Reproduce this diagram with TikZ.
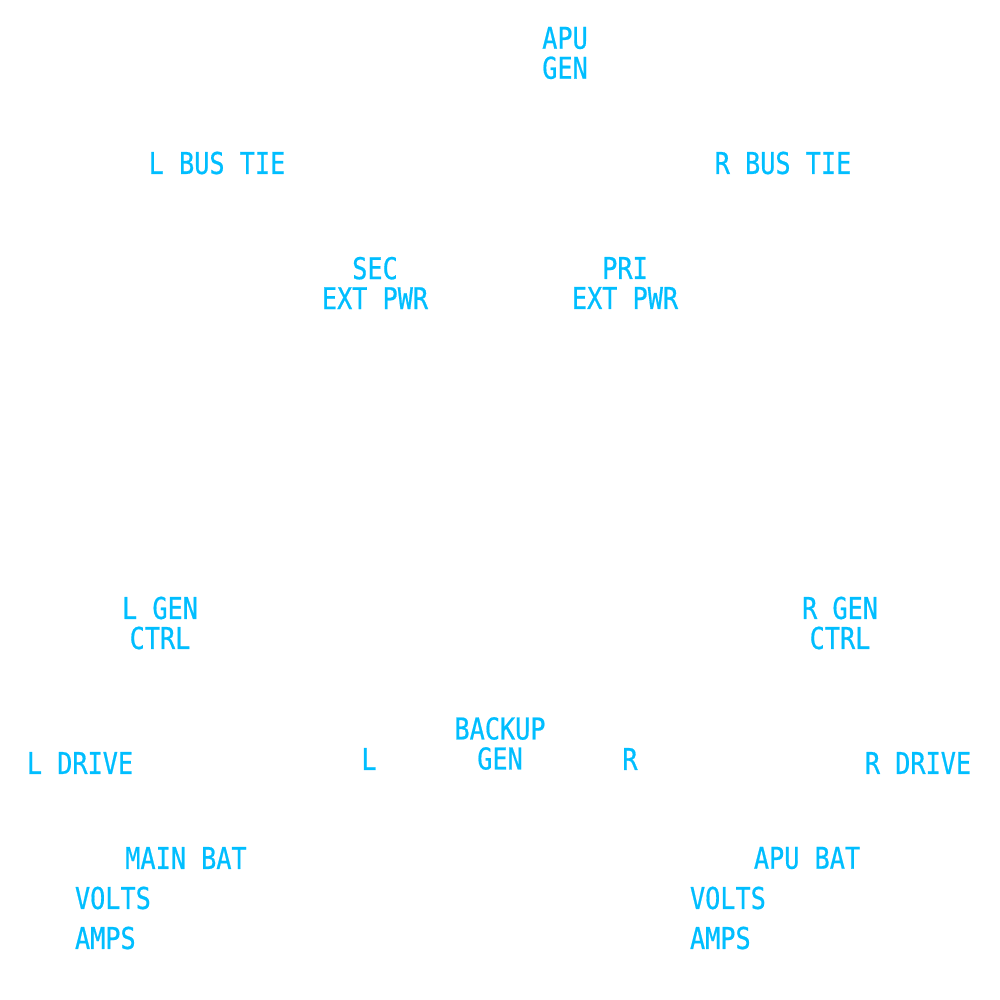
\documentclass[tikz,border=0pt]{standalone}
\usepackage{fontspec}
\setmainfont[FakeStretch=0.84,FakeBold=0.6]{DejaVu Sans Mono}
\definecolor{labcyan}{RGB}{0,190,255}
\begin{document}
\begin{tikzpicture}[x=1pt,y=-1pt,
  lab/.style={inner sep=0pt,outer sep=0pt,text=labcyan,align=center,
    font=\fontsize{30}{30}\selectfont}]
\useasboundingbox[fill=white] (0,0) rectangle (1000,1000);
\node[lab] (apu) at (565,53) {APU\\GEN};
\node[lab] (lbt) at (217,163) {L BUS TIE};
\node[lab] (rbt) at (783,163) {R BUS TIE};
\node[lab] (sec) at (375,283) {SEC\\EXT PWR};
\node[lab] (pri) at (625,283) {PRI\\EXT PWR};
\node[lab] (lgc) at (160,623) {L GEN\\CTRL};
\node[lab] (rgc) at (840,623) {R GEN\\CTRL};
\node[lab] (bkg) at (500,743.5) {BACKUP\\GEN};
\node[lab] (bl) at (369,759) {L};
\node[lab] (br) at (630,759) {R};
\node[lab] (ldr) at (80,763) {L DRIVE};
\node[lab] (rdr) at (918,763) {R DRIVE};
\node[lab] (mbat) at (186,858) {MAIN BAT};
\node[lab,anchor=west] (lv) at (75,898) {VOLTS};
\node[lab,anchor=west] (la) at (75,938) {AMPS};
\node[lab] (abat) at (807,858) {APU BAT};
\node[lab,anchor=west] (rv) at (690,898) {VOLTS};
\node[lab,anchor=west] (ra) at (690,938) {AMPS};
\end{tikzpicture}
\end{document}
